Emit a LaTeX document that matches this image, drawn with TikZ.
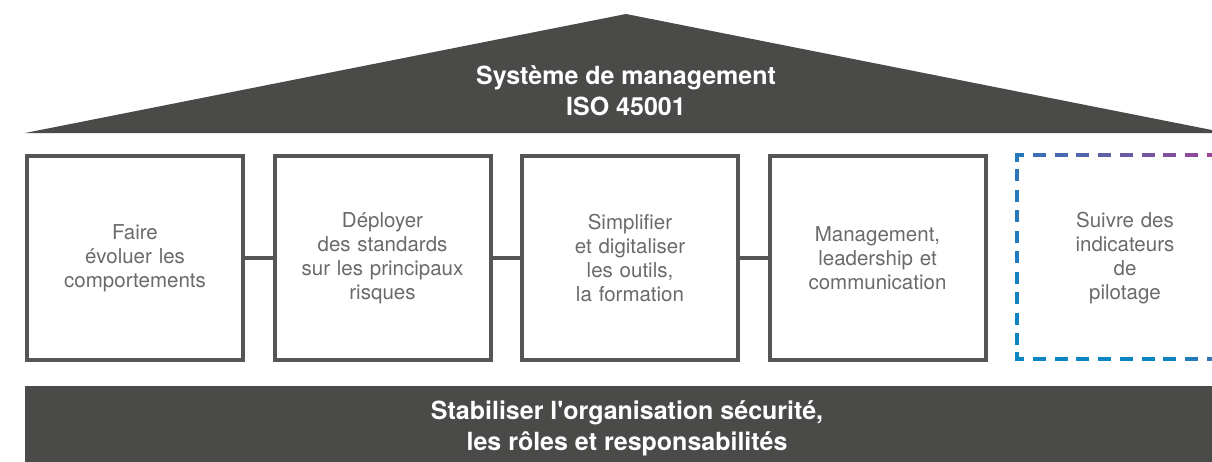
\documentclass[tikz,border=0pt]{standalone}
\usepackage{fontspec}
\setmainfont{TeX Gyre Heros}
\usetikzlibrary{positioning}
\definecolor{roofgray}{HTML}{4A4A48}
\definecolor{boxgray}{HTML}{565656}
\definecolor{textgray}{HTML}{6A6A6A}
\definecolor{pilotblue}{HTML}{0A86C4}
\definecolor{pilotpurple}{HTML}{9B4596}

\begin{document}
\begin{tikzpicture}
	[x=1pt,y=-1pt,
	main node/.style={shape=rectangle,draw=boxgray,line width=4pt,minimum width=216pt,minimum height=204pt,
		text width=200pt,align=center,text=textgray,font=\fontsize{20.5}{24}\selectfont,inner sep=0pt},
	banner/.style={text=white,align=center,font=\fontsize{25}{31}\selectfont\bfseries},
	dash piece/.style={line width=4pt}]
	\useasboundingbox (0,0) rectangle (1212,461);
	\clip (0,0) rectangle (1212,461);
	
	% toit et socle
	\fill[roofgray] (25,133) -- (626,14) -- (1227,133) -- cycle;
	\fill[roofgray] (25,386) rectangle (1240,470);
	\node [banner] (roof) at (626,91) {Système de management\\ISO 45001};
	\node [banner] (base) at (627,428) {Stabiliser l\textquotesingle organisation sécurité,\\les rôles et responsabilités};
	
	% piliers
	\node [main node] (1) at (135,258) {Faire\\évoluer les\\comportements};
	\node [main node] (2) at (382.5,258) {Déployer\\des standards\\sur les principaux\\risques};
	\node [main node] (3) at (630,258) {Simplifier\\et digitaliser\\les outils,\\la formation};
	\node [main node] (4) at (877.5,258) {Management,\\leadership et\\communication};
	\node [main node,draw=none] (5) at (1125,258) {Suivre des\\indicateurs\\de\\pilotage};
	
	\path[draw,boxgray,line width=4pt]
	(1) edge (2)
	(2) edge (3)
	(3) edge (4)
	;
	
	% cadre pointille en degrade
	\draw[dash piece,pilotblue!80!pilotpurple] (1024,155) -- (1017,155) -- (1017,162);
	\draw[dash piece,pilotblue] (1017,352) -- (1017,359) -- (1024,359);
	\foreach \k in {0,...,8} {
		\pgfmathsetmacro\xa{1033+21.7*\k}
		\pgfmathtruncatemacro\t{30+70*(\xa-1017)/190}
		\draw[dash piece,pilotpurple!\t!pilotblue] (\xa,155) -- ++(13,0);
		\pgfmathtruncatemacro\b{max(0,min(100,30*(\xa-1150)/60))}
		\draw[dash piece,pilotpurple!\b!pilotblue] (\xa,359) -- ++(13,0);
		\pgfmathsetmacro\ya{169+20.5*\k}
		\pgfmathtruncatemacro\l{25*(359-\ya)/204}
		\draw[dash piece,pilotpurple!\l!pilotblue] (1017,\ya) -- ++(0,12);
	}
	
\end{tikzpicture}
\end{document}
